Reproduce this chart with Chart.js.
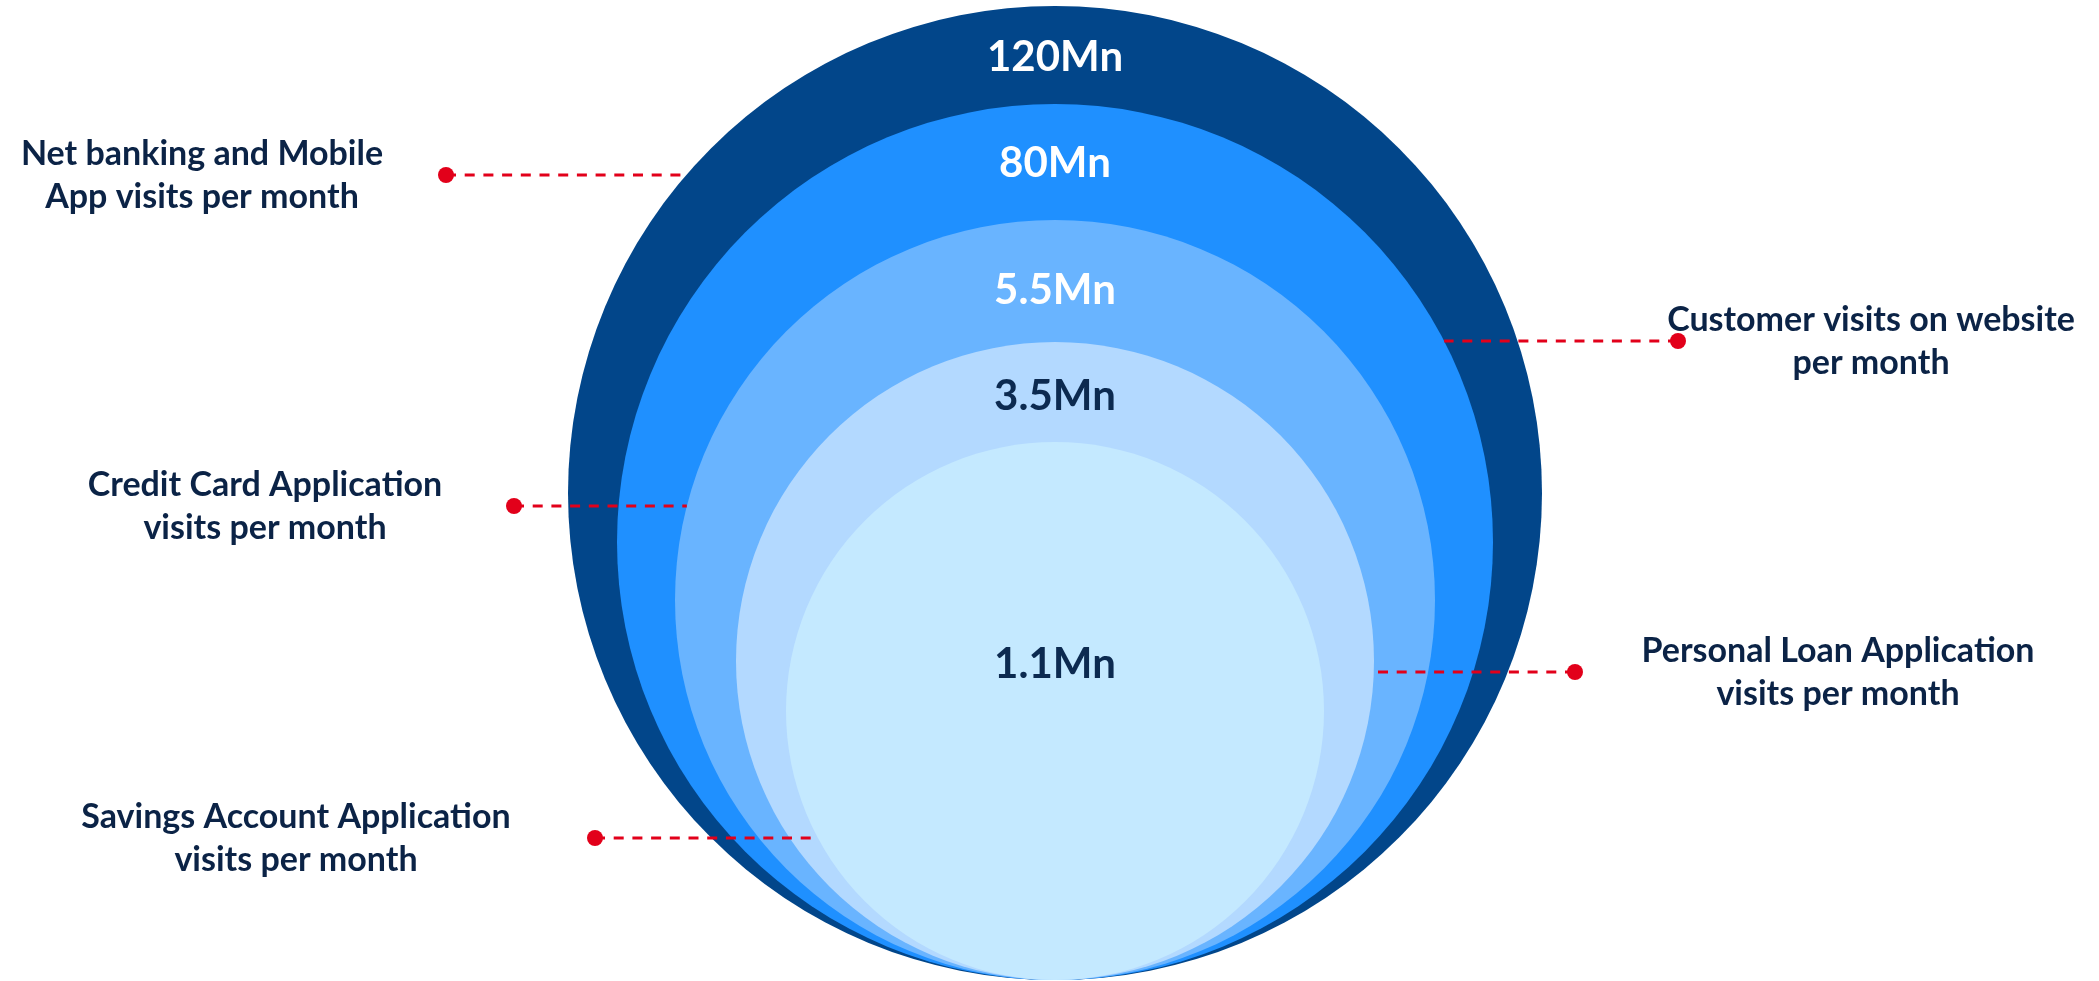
<!DOCTYPE html>
<html>
<head>
<meta charset="utf-8">
<title>Visits per month</title>
<script src="https://cdn.jsdelivr.net/npm/chart.js@4.4.1/dist/chart.umd.min.js"></script>
<style>
  html, body { margin: 0; padding: 0; background: #fff; }
  canvas { display: block; }
</style>
</head>
<body>
<canvas id="myChart" width="2099" height="981"></canvas>
<script>
// data
const categories = [
  ['Net banking and Mobile', 'App visits per month'],
  ['Customer visits on website', 'per month'],
  ['Credit Card Application', 'visits per month'],
  ['Personal Loan Application', 'visits per month'],
  ['Savings Account Application', 'visits per month']
];
const visitsMn = [120, 80, 5.5, 3.5, 1.1];
// circle radius as drawn in the picture (relative units)
const circleSize = [487, 438, 380, 319, 269];

const ringColors = ['#02468A', '#1F90FF', '#69B4FF', '#B3D9FF', '#C4E9FF'];
const valueColors = ['#ffffff', '#ffffff', '#ffffff', '#0C2A50', '#0C2A50'];

// all circles sit on the baseline, centred on x = 0
const points = circleSize.map(function (r) {
  return { x: 0, y: r };
});

function pxRadius(chart, r) {
  const s = chart.scales.y;
  const v = s.getPixelForValue(0) - s.getPixelForValue(r);
  return isFinite(v) ? v : 0; // scale not laid out yet on the first pass
}

// labels, dots and dashed leader lines
const callouts = {
  id: 'callouts',
  afterDatasetsDraw(chart, args, opts) {
    const { ctx, scales: { x, y } } = chart;
    ctx.save();

    // values inside the rings
    ctx.textAlign = 'center';
    ctx.textBaseline = 'middle';
    ctx.font = 'bold 42px Lato';
    visitsMn.forEach(function (v, i) {
      ctx.fillStyle = valueColors[i];
      ctx.fillText(v + 'Mn', x.getPixelForValue(0), y.getPixelForValue(opts.valueY[i]));
    });

    // callouts
    opts.spots.forEach(function (s, i) {
      const r = circleSize[i];
      const dy = s.dotY - r;
      const dx = Math.sqrt(Math.max(r * r - dy * dy, 0));
      const endX = x.getPixelForValue(s.dotX < 0 ? -dx : dx);
      const dotX = x.getPixelForValue(s.dotX);
      const dotY = y.getPixelForValue(s.dotY);

      ctx.strokeStyle = opts.red;
      ctx.lineWidth = 3;
      ctx.setLineDash([10, 8.7]);
      ctx.beginPath();
      ctx.moveTo(dotX, dotY);
      ctx.lineTo(endX, dotY);
      ctx.stroke();
      ctx.setLineDash([]);

      ctx.fillStyle = opts.red;
      ctx.beginPath();
      ctx.arc(dotX, dotY, 8, 0, Math.PI * 2);
      ctx.fill();

      ctx.fillStyle = '#0B2346';
      ctx.font = 'bold 34px Lato';
      ctx.textBaseline = 'alphabetic';
      const tx = x.getPixelForValue(s.textX);
      categories[i].forEach(function (line, k) {
        ctx.fillText(line, tx, dotY - 10.5 + k * 43);
      });
    });
    ctx.restore();
  }
};

const data = {
  datasets: [{
    data: points,
    showLine: false,
    pointBackgroundColor: ringColors,
    pointBorderWidth: 0,
    pointHoverBorderWidth: 0,
    pointRadius: function (c) {
      return pxRadius(c.chart, circleSize[c.dataIndex]);
    }
  }]
};

const config = {
  type: 'scatter',
  data: data,
  options: {
    responsive: false,
    animation: false,
    events: [],
    layout: { padding: 0, autoPadding: false },
    scales: {
      x: { display: false, min: -1055, max: 1044 },
      y: { display: false, min: -1, max: 980 }
    },
    plugins: {
      legend: { display: false },
      tooltip: { enabled: false },
      callouts: {
        red: '#E2001A',
        valueY: [923, 817, 690, 584, 316],
        spots: [
          { dotX: -609, dotY: 805, textX: -853 },
          { dotX: 623, dotY: 639, textX: 816 },
          { dotX: -541, dotY: 474, textX: -790 },
          { dotX: 520, dotY: 308, textX: 783 },
          { dotX: -460, dotY: 142, textX: -759 }
        ]
      }
    }
  },
  plugins: [callouts]
};

const myChart = new Chart(document.getElementById('myChart'), config);
myChart.update('none');
</script>
</body>
</html>
